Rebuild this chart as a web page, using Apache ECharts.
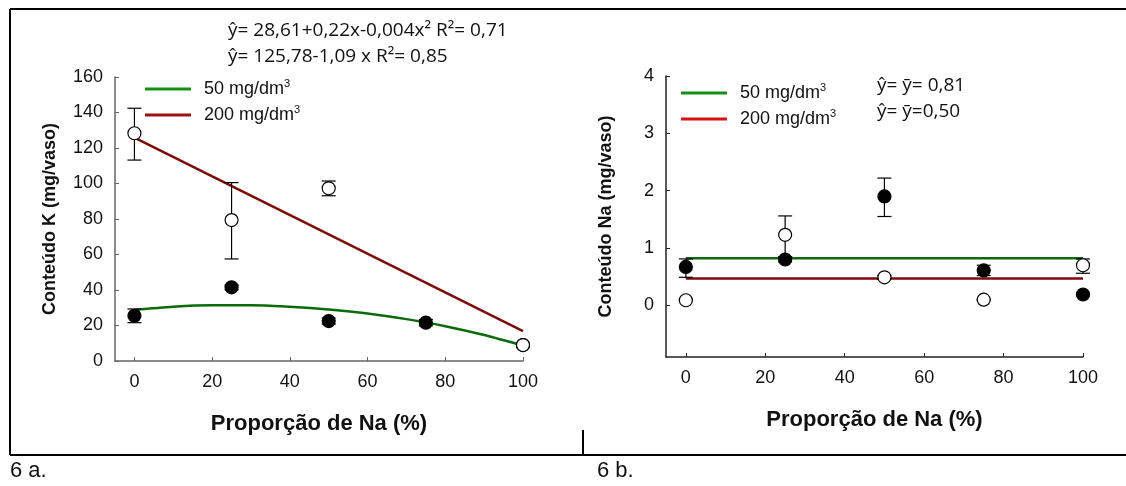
<!DOCTYPE html>
<html><head><meta charset="utf-8">
<script src="https://cdn.jsdelivr.net/npm/echarts@6/dist/echarts.min.js"></script>
<style>html,body{margin:0;padding:0;background:#fff}#c{width:1126px;height:486px}</style>
</head><body><div id="c"></div>
<script>
// ---------- data ----------
const xTicks = [0, 20, 40, 60, 80, 100];
const kTicks = [0, 20, 40, 60, 80, 100, 120, 140, 160];
const naTicks = [0, 1, 2, 3, 4];
const doses = [0, 25, 50, 75, 100];

// 6 a: K content (mg/vaso)
const k50 = [25.5, 41.5, 22.5, 21.6, 9];
const k50Low = [21.6, 40.2, 20.8, 19.8, 8.2];
const k50High = [29.3, 42.8, 24.2, 23.4, 9.8];
const k200 = [128.3, 79.4, 97.3, null, 9];
const k200Low = [113.2, 57.5, 93.1, null, 7.8];
const k200High = [142.4, 100.5, 101.4, null, 10.2];
const kFit50X = [0, 10, 20, 30, 40, 50, 60, 70, 80, 90, 100];
const kFit50Y = [28.8, 30.6, 31.4, 31.4, 30.5, 29.0, 26.8, 23.6, 19.6, 14.6, 8.6];
const kFit200X = [0, 100];
const kFit200Y = [125.8, 16.8];

// 6 b: Na content (mg/vaso)
const na50 = [0.67, 0.80, 1.90, 0.61, 0.19];
const na50Low = [0.49, 0.76, 1.55, 0.52, 0.17];
const na50High = [0.81, 0.85, 2.22, 0.70, 0.21];
const na200 = [0.09, 1.23, 0.49, 0.10, 0.70];
const na200Low = [0.08, 0.85, 0.46, 0.09, 0.56];
const na200High = [0.10, 1.56, 0.52, 0.11, 0.81];
const naFitX = [0, 100];
const naFit50Y = [0.82, 0.82];
const naFit200Y = [0.47, 0.47];

const eqA = ['ŷ= 28,61+0,22x-0,004x² R²= 0,71', 'ŷ= 125,78-1,09 x R²= 0,85'];
const eqB = ['ŷ= ȳ= 0,81', 'ŷ= ȳ=0,50'];

// ---------- helpers ----------
function pts(xs, ys) { return xs.map((x, i) => [x, ys[i]]).filter(p => p[1] != null); }
function errs(xs, lo, hi) { return xs.map((x, i) => [x, lo[i], hi[i]]).filter(p => p[1] != null); }
function errRender(params, api) {
  const x = api.value(0), lo = api.value(1), hi = api.value(2);
  const a = api.coord([x, lo]), b = api.coord([x, hi]);
  const w = 7, st = { stroke: '#000', lineWidth: 1.2 };
  return { type: 'group', children: [
    { type: 'line', shape: { x1: a[0], y1: a[1], x2: b[0], y2: b[1] }, style: st },
    { type: 'line', shape: { x1: a[0] - w, y1: a[1], x2: a[0] + w, y2: a[1] }, style: st },
    { type: 'line', shape: { x1: b[0] - w, y1: b[1], x2: b[0] + w, y2: b[1] }, style: st }
  ]};
}
const FONT = '"Liberation Sans", Arial, sans-serif';
const GREEN = '#0b6b0b', RED = '#7d0a0a';

function xAx(grid, axisColor) {
  return {
    type: 'value', gridIndex: grid, min: -5, max: 100,
    axisLine: { show: true, onZero: false, lineStyle: { color: axisColor, width: 1.5 } },
    axisTick: { show: true, inside: true, length: 4, customValues: xTicks, lineStyle: { color: axisColor } },
    axisLabel: { customValues: xTicks, fontSize: 18, color: '#111', fontFamily: FONT, margin: 12 },
    splitLine: { show: false },
    name: 'Proporção de Na (%)', nameLocation: 'middle', nameGap: 52,
    nameTextStyle: { fontWeight: 'bold', fontSize: 22, color: '#111', fontFamily: FONT }
  };
}
function yAx(grid, min, max, ticks, name, axisColor, gap) {
  return {
    type: 'value', gridIndex: grid, min: min, max: max,
    axisLine: { show: true, onZero: false, lineStyle: { color: axisColor, width: 1.5 } },
    axisTick: { show: true, inside: true, length: 4, customValues: ticks, lineStyle: { color: axisColor } },
    axisLabel: { customValues: ticks, fontSize: 18, color: '#111', fontFamily: FONT, margin: 12 },
    splitLine: { show: false },
    name: name, nameLocation: 'middle', nameGap: gap, nameRotate: 90,
    nameTextStyle: { fontWeight: 'bold', fontSize: 18, color: '#111', fontFamily: FONT }
  };
}
function lineS(name, grid, data, color) {
  return { name: name, type: 'line', xAxisIndex: grid, yAxisIndex: grid, data: data, showSymbol: false,
    smooth: grid === 0 && data.length > 2 ? 0.3 : false, lineStyle: { color: color, width: 2.5 }, itemStyle: { color: color }, z: 2, silent: true };
}
function errS(grid, data) {
  return { type: 'custom', xAxisIndex: grid, yAxisIndex: grid, data: data, renderItem: errRender, z: 3, silent: true };
}
function dotS(grid, data, filled) {
  return { type: 'scatter', xAxisIndex: grid, yAxisIndex: grid, data: data, symbol: 'circle', symbolSize: 13,
    itemStyle: { color: filled ? '#000' : '#fff', borderColor: '#000', borderWidth: 1.2, opacity: 1 }, z: 4, silent: true };
}
const legendRich = {
  a: { fontSize: 18, fontFamily: FONT, color: '#111' },
  s: { fontSize: 11, fontFamily: FONT, color: '#111', padding: [0, 0, 11, 0] }
};
function legendFmt(n) { return '{a|' + n.replace('³', '') + '}{s|3}'; }
function legend(left, top, green, red) {
  return { left: left, top: top, orient: 'vertical', itemWidth: 46, itemHeight: 3, itemGap: 6,
    selectedMode: false, icon: 'rect', formatter: legendFmt, textStyle: { rich: legendRich, padding: [0, 0, 0, 8] },
    data: [{ name: '50 mg/dm³', itemStyle: { color: green } }, { name: '200 mg/dm³', itemStyle: { color: red } }] };
}
const eqStyle = { fontSize: 19, fontFamily: '"Open Sans", "Noto Sans", sans-serif', fill: '#111' };
function ln(x1, y1, x2, y2, w) { return { type: 'line', shape: { x1, y1, x2, y2 }, style: { stroke: '#000', lineWidth: w || 2 }, silent: true }; }

const chart = echarts.init(document.getElementById('c'), null, { renderer: 'canvas' });
chart.setOption({
  animation: false,
  backgroundColor: '#fff',
  grid: [
    { left: 115, right: 603, top: 77, bottom: 125 },
    { left: 666, right: 43, top: 76, bottom: 129 }
  ],
  xAxis: [xAx(0, '#666'), xAx(1, '#222')],
  yAxis: [yAx(0, 0, 160, kTicks, 'Conteúdo K (mg/vaso)', '#666', 56),
          yAx(1, -0.9, 4, naTicks, 'Conteúdo Na (mg/vaso)', '#222', 51)],
  legend: [legend(140, 73, '#138f13', '#a01010'), legend(676, 77, '#138f13', '#d01515')],
  series: [
    lineS('50 mg/dm³', 0, pts(kFit50X, kFit50Y), GREEN),
    lineS('200 mg/dm³', 0, pts(kFit200X, kFit200Y), RED),
    errS(0, errs(doses, k50Low, k50High)),
    errS(0, errs(doses, k200Low, k200High)),
    dotS(0, pts(doses, k50), true),
    dotS(0, pts(doses, k200), false),
    lineS('50 mg/dm³', 1, pts(naFitX, naFit50Y), GREEN),
    lineS('200 mg/dm³', 1, pts(naFitX, naFit200Y), RED),
    errS(1, errs(doses, na50Low, na50High)),
    errS(1, errs(doses, na200Low, na200High)),
    dotS(1, pts(doses, na50), true),
    dotS(1, pts(doses, na200), false)
  ],
  graphic: [
    ln(10, 9, 1126, 9), ln(10, 9, 10, 455), ln(10, 455, 1126, 455), ln(583, 430, 583, 455),
    { type: 'text', left: 228, top: 21, style: Object.assign({ text: eqA[0] }, eqStyle) },
    { type: 'text', left: 228, top: 47, style: Object.assign({ text: eqA[1] }, eqStyle) },
    { type: 'text', left: 877, top: 76, style: Object.assign({ text: eqB[0] }, eqStyle) },
    { type: 'text', left: 877, top: 102, style: Object.assign({ text: eqB[1] }, eqStyle) },
    { type: 'text', left: 10, top: 460, style: { text: '6 a.', fontSize: 22, fontFamily: FONT, fill: '#111' } },
    { type: 'text', left: 597, top: 460, style: { text: '6 b.', fontSize: 22, fontFamily: FONT, fill: '#111' } }
  ]
});
</script></body></html>
